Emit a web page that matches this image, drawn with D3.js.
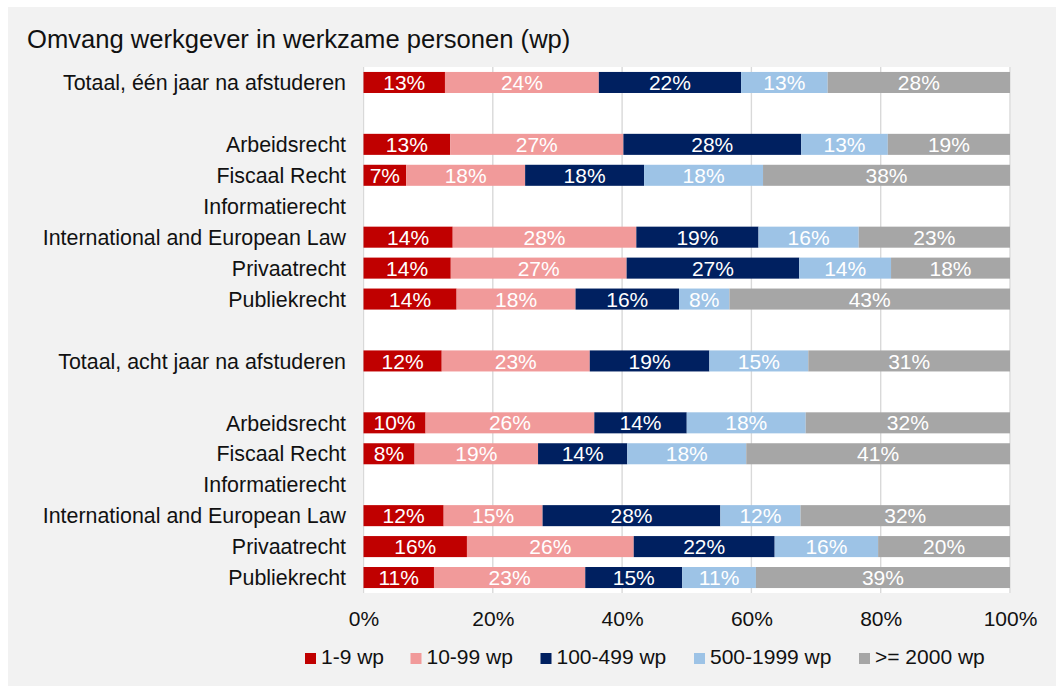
<!DOCTYPE html>
<html>
<head>
<meta charset="utf-8">
<script src="https://cdn.jsdelivr.net/npm/d3@7"></script>
<style>
  html, body { margin: 0; padding: 0; background: #fff; }
  svg { display: block; font-family: Arial, "Liberation Sans", sans-serif; }
</style>
</head>
<body>
<svg id="chart" width="1056" height="686"></svg>
<script>
// categorieen (lege rijen zijn scheiding)
const categories = [
  "Totaal, één jaar na afstuderen", "",
  "Arbeidsrecht", "Fiscaal Recht", "Informatierecht", "International and European Law", "Privaatrecht", "Publiekrecht",
  "",
  "Totaal, acht jaar na afstuderen", "",
  "Arbeidsrecht", "Fiscaal Recht", "Informatierecht", "International and European Law", "Privaatrecht", "Publiekrecht"
];

const seriesNames = ["1-9 wp", "10-99 wp", "100-499 wp", "500-1999 wp", ">= 2000 wp"];
const seriesColors = ["#c00000", "#f19a9a", "#002060", "#9dc3e6", "#a6a6a6"];

// waarden in %, null = geen gegevens
const wp1_9 =     [12.6, null, 13.4,  6.6, null, 13.8, 13.5, 14.4, null, 12.1, null,  9.6,  7.9, null, 12.4, 16.0, 10.9];
const wp10_99 =   [23.8, null, 26.8, 18.4, null, 28.4, 27.2, 18.4, null, 22.9, null, 26.1, 19.1, null, 15.3, 25.8, 23.4];
const wp100_499 = [22.0, null, 27.5, 18.4, null, 18.9, 26.7, 16.0, null, 18.5, null, 14.3, 13.8, null, 27.5, 21.8, 15.0];
const wp500_1999 =[13.4, null, 13.4, 18.4, null, 15.5, 14.2,  7.8, null, 15.3, null, 18.4, 18.4, null, 12.4, 16.0, 11.4];
const wp2000 =    [28.2, null, 18.9, 38.2, null, 23.4, 18.4, 43.4, null, 31.2, null, 31.6, 40.8, null, 32.4, 20.4, 39.3];

const xTicks = [0, 20, 40, 60, 80, 100];

const svg = d3.select("#chart");

// grijze achtergrond
svg.append("rect")
  .attr("x", 8).attr("y", 7)
  .attr("width", 1056).attr("height", 700)
  .attr("fill", "#f2f2f2");

svg.append("text")
  .attr("x", 27).attr("y", 48)
  .attr("font-size", 25.6)
  .attr("fill", "#111")
  .text("Omvang werkgever in werkzame personen (wp)");

const plot = { left: 363.5, right: 1010, top: 67, bottom: 593 };

svg.append("rect")
  .attr("x", plot.left - 1).attr("y", plot.top)
  .attr("width", plot.right - plot.left + 2).attr("height", plot.bottom - plot.top)
  .attr("fill", "#fff");

const x = d3.scaleLinear().domain([0, 100]).range([plot.left, plot.right]);
const y = d3.scaleBand()
  .domain(d3.range(categories.length))
  .range([plot.top, plot.bottom])
  .paddingInner(0.32)
  .paddingOuter(0.16);

// gridlijnen
svg.append("g")
  .selectAll("line")
  .data(xTicks)
  .join("line")
  .attr("x1", (d) => x(d)).attr("x2", (d) => x(d))
  .attr("y1", plot.top).attr("y2", plot.bottom)
  .attr("stroke", "#d9d9d9")
  .attr("stroke-width", 1.4);

// tabel voor d3.stack
const allSeries = [wp1_9, wp10_99, wp100_499, wp500_1999, wp2000];
const table = categories.map((c, i) => {
  const row = { idx: i, empty: wp1_9[i] === null };
  seriesNames.forEach((s, k) => { row[s] = allSeries[k][i] || 0; });
  return row;
});

const stacked = d3.stack().keys(seriesNames)(table);

const layers = svg.append("g")
  .selectAll("g")
  .data(stacked)
  .join("g")
  .attr("fill", (d, k) => seriesColors[k]);

layers.selectAll("rect")
  .data((d) => d.filter((p) => !p.data.empty))
  .join("rect")
  .attr("x", (p) => x(p[0]))
  .attr("y", (p) => y(p.data.idx))
  .attr("width", (p) => x(p[1]) - x(p[0]))
  .attr("height", y.bandwidth());

layers.selectAll("text")
  .data((d) => d.filter((p) => !p.data.empty).map((p) => Object.assign(p, { key: d.key })))
  .join("text")
  .attr("x", (p) => (x(p[0]) + x(p[1])) / 2)
  .attr("y", (p) => y(p.data.idx) + y.bandwidth() / 2)
  .attr("dy", "0.36em")
  .attr("text-anchor", "middle")
  .attr("font-size", 21)
  .attr("fill", "#fff")
  .text((p) => Math.round(p.data[p.key] + 1e-9) + "%");

// categorie labels
svg.append("g")
  .selectAll("text")
  .data(categories)
  .join("text")
  .attr("x", 346)
  .attr("y", (d, i) => y(i) + y.bandwidth() / 2)
  .attr("dy", "0.36em")
  .attr("text-anchor", "end")
  .attr("font-size", 21.4)
  .attr("fill", "#111")
  .text((d) => d);

// x-as
const xAxis = svg.append("g")
  .attr("transform", `translate(0,${plot.bottom})`)
  .call(d3.axisBottom(x).tickValues(xTicks).tickSize(0).tickPadding(18).tickFormat((d) => d + "%"));
xAxis.select(".domain").remove();
xAxis.selectAll("text")
  .attr("font-size", 21)
  .attr("font-family", "Arial, 'Liberation Sans', sans-serif")
  .attr("fill", "#111");

// legenda
const legendX = [305, 410.5, 540.5, 694, 859];
const legend = svg.append("g")
  .selectAll("g")
  .data(seriesNames)
  .join("g")
  .attr("transform", (d, k) => `translate(${legendX[k]},664)`);

legend.append("rect")
  .attr("x", 0).attr("y", -11)
  .attr("width", 11).attr("height", 11)
  .attr("fill", (d, k) => seriesColors[k]);

legend.append("text")
  .attr("x", 16)
  .attr("y", 0)
  .attr("font-size", 21)
  .attr("fill", "#111")
  .text((d) => d);
</script>
</body>
</html>
